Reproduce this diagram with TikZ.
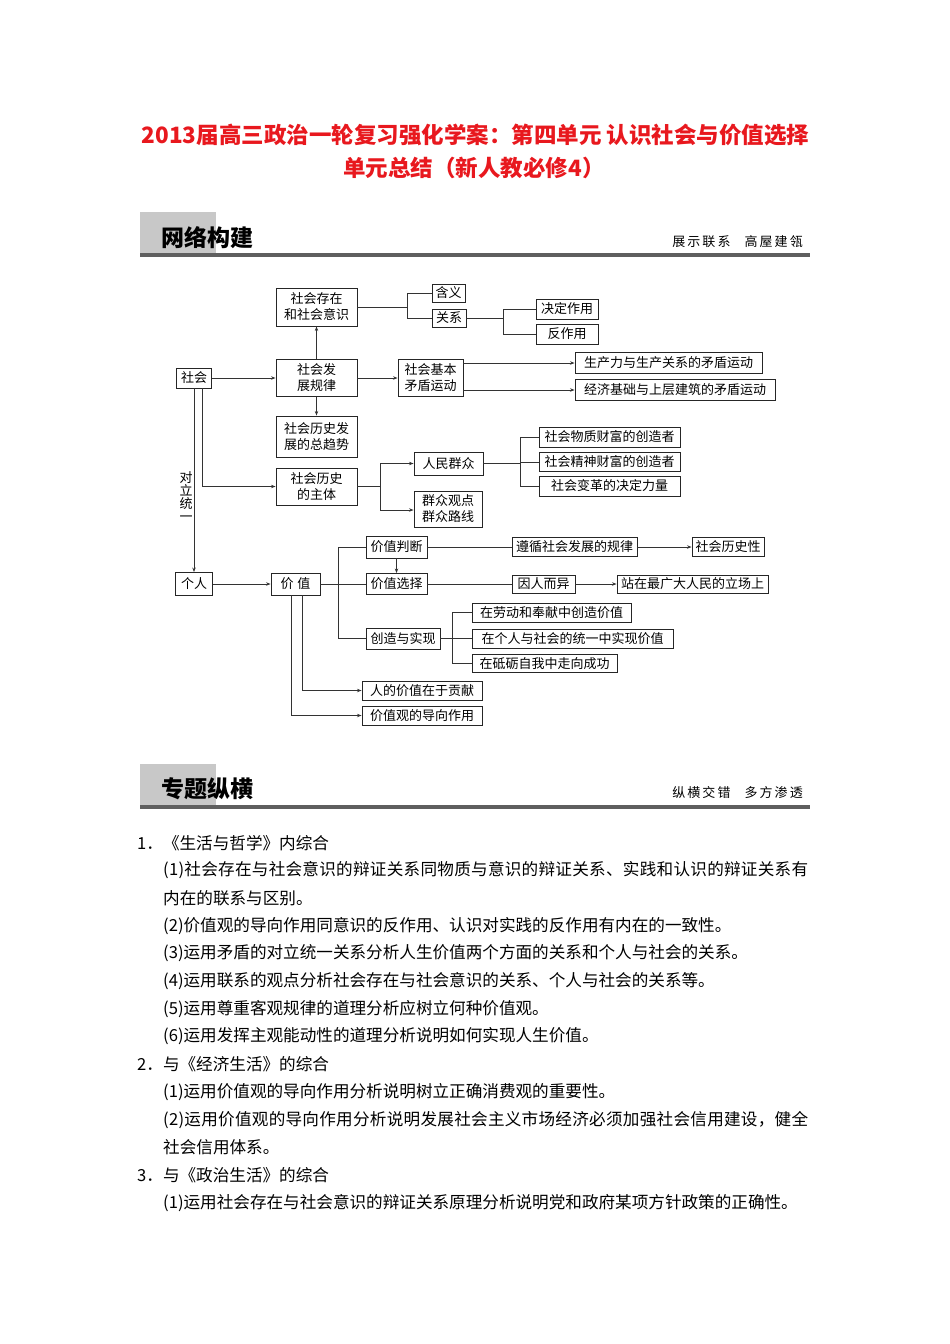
\documentclass[tikz,border=0pt]{standalone}
\usepackage{fontspec}
\setmainfont{Noto Sans CJK SC}
\newfontfamily\widefont[LetterSpace=1.6]{Noto Sans CJK SC}
\newfontfamily\slogfont[LetterSpace=16]{Noto Sans CJK SC}
\usepackage{xcolor}
\usetikzlibrary{positioning, arrows.meta, calc}

\definecolor{titlered}{RGB}{232,24,30}
\definecolor{bargray}{RGB}{95,95,95}
\definecolor{tabgray}{RGB}{200,200,200}

\begin{document}
\begin{tikzpicture}[
		x=1pt, y=-1pt,
		box/.style={draw=black!85, line width=0.9pt, inner sep=1pt, align=center,
			font=\fontsize{13}{16}\selectfont},
		wh/.style 2 args={minimum width=#1pt, minimum height=#2pt},
		link/.style={draw=black!80, line width=0.8pt},
		arrow/.style={link, -{Stealth[length=4.5pt, width=3.4pt]}},
		body/.style={anchor=west, inner sep=0pt, font=\fontsize{16.6}{20}\selectfont},
		sectitle/.style={anchor=west, inner sep=0pt, font=\fontsize{23}{23}\selectfont\bfseries},
		slogan/.style={anchor=east, inner sep=0pt, font=\fontsize{13}{13}\selectfont\slogfont}
	]
	\useasboundingbox (0,0) rectangle (950,1344);
	
	% title
	\node[font=\fontsize{22.5}{26}\selectfont\bfseries, text=titlered] (title1) at (475.5,135)
		{2013届高三政治一轮复习强化学案：第四单元 认识社会与价值选择};
	\node[font=\fontsize{22.5}{26}\selectfont\bfseries, text=titlered] (title2) at (474,168)
		{单元总结（新人教必修4）};
	
	% section header 1
	\fill[tabgray] (140,212) rectangle (216,253);
	\fill[bargray] (140,253) rectangle (810,257);
	\node[sectitle] (sec1) at (161,237.5) {网络构建};
	\node[slogan] (sec1r) at (803,242) {展示联系\hspace{14pt}高屋建瓴};
	
	% diagram boxes
	\node[box, wh={35}{20}] (shehui) at (194,378) {社会};
	\node[box, wh={81}{38}] (sccz) at (316.5,307) {社会存在\\和社会意识};
	\node[box, wh={33}{18}] (hanyi) at (448.5,293) {含义};
	\node[box, wh={34}{18}] (guanxi) at (449,318) {关系};
	\node[box, wh={62}{20}] (jueding) at (567,309) {决定作用};
	\node[box, wh={62}{20}] (fanzuo) at (567,334) {反作用};
	\node[box, wh={81}{37}] (fzgl) at (316.5,378) {社会发\\展规律};
	\node[box, wh={65}{37}] (jbmd) at (430.5,378) {社会基本\\矛盾运动};
	\node[box, wh={187}{21}] (scl) at (668.5,363) {生产力与生产关系的矛盾运动};
	\node[box, wh={200}{21}] (jjjc) at (675,390) {经济基础与上层建筑的矛盾运动};
	\node[box, wh={81}{41}] (qushi) at (316.5,436.5) {社会历史发\\展的总趋势};
	\node[box, wh={81}{37}] (zhuti) at (316.5,486.5) {社会历史\\的主体};
	\node[box, wh={69}{23}] (renmin) at (448.5,463.5) {人民群众};
	\node[box, wh={68}{36}] (qzgd) at (448,509) {群众观点\\群众路线};
	\node[box, wh={141}{20}] (wuzhi) at (609.5,437) {社会物质财富的创造者};
	\node[box, wh={141}{19}] (jingshen) at (609.5,462) {社会精神财富的创造者};
	\node[box, wh={141}{20}] (biange) at (609.5,486) {社会变革的决定力量};
	\node[font=\fontsize{13}{13}\selectfont, align=center, inner sep=0pt] (dltl) at (186,497) {对\\立\\统\\一};
	
	\node[box, wh={37}{23}] (geren) at (194,584) {个人};
	\node[box, wh={49}{22}] (jiazhi) at (295.5,584) {价\hspace{4pt}值};
	\node[box, wh={61}{22}] (pd) at (396.5,547) {价值判断};
	\node[box, wh={61}{21}] (xz) at (396.5,584) {价值选择};
	\node[box, wh={74}{21}] (cz) at (403,638.5) {创造与实现};
	\node[box, wh={125}{19}] (zx) at (574.5,547) {遵循社会发展的规律};
	\node[box, wh={72}{19}] (lsx) at (728,547) {社会历史性};
	\node[box, wh={63}{18}] (yr) at (543.5,584) {因人而异};
	\node[box, wh={151}{18}] (lc) at (692.5,584) {站在最广大人民的立场上};
	\node[box, wh={159}{19}] (ld) at (551.5,612.5) {在劳动和奉献中创造价值};
	\node[box, wh={201}{19}] (ty) at (572.5,638.5) {在个人与社会的统一中实现价值};
	\node[box, wh={145}{18}] (dl) at (544.5,663.5) {在砥砺自我中走向成功};
	\node[box, wh={120}{19}] (gx) at (422,690.5) {人的价值在于贡献};
	\node[box, wh={120}{19}] (dx) at (422,715.5) {价值观的导向作用};
	
	% branch points
	\coordinate (j1) at ([xshift=50pt]sccz.east);
	\coordinate (j2) at ([xshift=37pt]guanxi.east);
	\coordinate (j3) at ([xshift=23pt]zhuti.east);
	\coordinate (j4) at ([xshift=37pt]renmin.east);
	\coordinate (j5) at ([xshift=18pt]jiazhi.east);
	\coordinate (j6) at ([xshift=12pt]cz.east);
	
	% connectors
	\draw[arrow] (shehui.east) -- (fzgl.west);
	\draw[arrow] (fzgl.north) -- (sccz.south);
	\draw[arrow] (fzgl.south) -- (qushi.north);
	\draw[arrow] (fzgl.east) -- (jbmd.west);
	\draw[link] (sccz.east) -- (j1);
	\draw[link] (hanyi.west) -| (j1);
	\draw[link] (guanxi.west) -| (j1);
	\draw[link] (guanxi.east) -- (j2);
	\draw[link] (jueding.west) -| (j2);
	\draw[link] (fanzuo.west) -| (j2);
	\draw[arrow] (jbmd.east |- scl.west) -- (scl.west);
	\draw[arrow] (jbmd.east |- jjjc.west) -- (jjjc.west);
	\draw[arrow] ([xshift=8pt]shehui.south) |- (zhuti.west);
	\draw[arrow] (shehui.south) -- (geren.north);
	\draw[link] (zhuti.east) -- (j3);
	\draw[arrow] (j3) |- (renmin.west);
	\draw[arrow] (j3) |- ([yshift=-1pt]qzgd.west);
	\draw[link] (renmin.east) -- (j4);
	\draw[link] (j4) |- (wuzhi.west);
	\draw[link] (j4) |- (jingshen.west);
	\draw[link] (j4) |- (biange.west);
	
	\draw[arrow] (geren.east) -- (jiazhi.west);
	\draw[link] (jiazhi.east) -- (j5);
	\draw[link] (j5) |- (pd.west);
	\draw[link] (j5) |- (xz.west);
	\draw[link] (j5) |- (cz.west);
	\draw[arrow] (pd.south) -- (xz.north);
	\draw[link] (pd.east) -- (zx.west);
	\draw[arrow] (zx.east) -- (lsx.west);
	\draw[link] (xz.east) -- (yr.west);
	\draw[arrow] (yr.east) -- (lc.west);
	\draw[link] (cz.east) -- (j6);
	\draw[link] (j6) |- (ld.west);
	\draw[link] (j6) |- (ty.west);
	\draw[link] (j6) |- (dl.west);
	\draw[arrow] ([xshift=7pt]jiazhi.south) |- (gx.west);
	\draw[arrow] ([xshift=-4pt]jiazhi.south) |- (dx.west);
	
	% section header 2
	\fill[tabgray] (140,764) rectangle (216,805);
	\fill[bargray] (140,805) rectangle (810,809);
	\node[sectitle] (sec2) at (161,789) {专题纵横};
	\node[slogan] (sec2r) at (803,793) {纵横交错\hspace{14pt}多方渗透};
	
	% text
	\node[body] (t1) at (137,843) {1．《生活与哲学》内综合};
	\node[body, font=\fontsize{16.6}{20}\selectfont\widefont] (t2) at (163,870) {(1)社会存在与社会意识的辩证关系同物质与意识的辩证关系、实践和认识的辩证关系有};
	\node[body] (t3) at (163,898) {内在的联系与区别。};
	\node[body] (t4) at (163,926) {(2)价值观的导向作用同意识的反作用、认识对实践的反作用有内在的一致性。};
	\node[body] (t5) at (163,953) {(3)运用矛盾的对立统一关系分析人生价值两个方面的关系和个人与社会的关系。};
	\node[body] (t6) at (163,981) {(4)运用联系的观点分析社会存在与社会意识的关系、个人与社会的关系等。};
	\node[body] (t7) at (163,1009) {(5)运用尊重客观规律的道理分析应树立何种价值观。};
	\node[body] (t8) at (163,1036) {(6)运用发挥主观能动性的道理分析说明如何实现人生价值。};
	\node[body] (t9) at (137,1064) {2．与《经济生活》的综合};
	\node[body] (t10) at (163,1092) {(1)运用价值观的导向作用分析说明树立正确消费观的重要性。};
	\node[body, font=\fontsize{16.6}{20}\selectfont\widefont] (t11) at (163,1120) {(2)运用价值观的导向作用分析说明发展社会主义市场经济必须加强社会信用建设，健全};
	\node[body] (t12) at (163,1147) {社会信用体系。};
	\node[body] (t13) at (137,1175) {3．与《政治生活》的综合};
	\node[body] (t14) at (163,1203) {(1)运用社会存在与社会意识的辩证关系原理分析说明党和政府某项方针政策的正确性。};
\end{tikzpicture}
\end{document}
